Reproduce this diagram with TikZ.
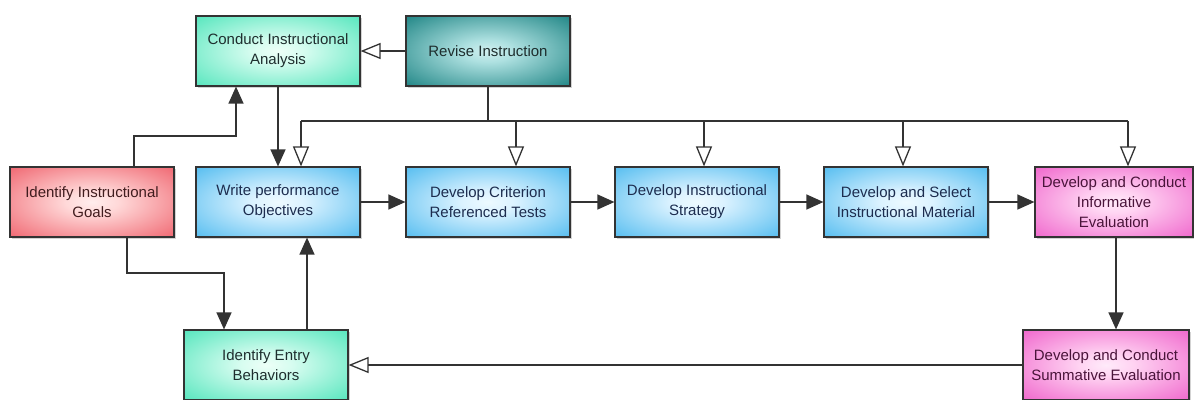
\documentclass[tikz,border=0pt]{standalone}
\usepackage{fontspec}
\setmainfont{Liberation Sans}
\usetikzlibrary{arrows.meta,shadows}
\pgfdeclareradialshading{blueshade}{\pgfpoint{0bp}{0bp}}{rgb(0bp)=(0.93,0.98,1); rgb(8bp)=(0.86,0.95,1); rgb(36bp)=(0.33,0.74,0.94); rgb(72bp)=(0.30,0.72,0.93)}
\pgfdeclareradialshading{tealshade}{\pgfpoint{0bp}{0bp}}{rgb(0bp)=(0.93,1,0.97); rgb(8bp)=(0.84,0.99,0.94); rgb(36bp)=(0.33,0.90,0.74); rgb(72bp)=(0.30,0.88,0.72)}
\pgfdeclareradialshading{dtealshade}{\pgfpoint{0bp}{0bp}}{rgb(0bp)=(0.82,0.94,0.94); rgb(8bp)=(0.68,0.88,0.88); rgb(36bp)=(0.12,0.52,0.52); rgb(72bp)=(0.08,0.44,0.44)}
\pgfdeclareradialshading{redshade}{\pgfpoint{0bp}{0bp}}{rgb(0bp)=(1,0.93,0.93); rgb(8bp)=(1,0.85,0.85); rgb(36bp)=(0.94,0.40,0.44); rgb(72bp)=(0.93,0.36,0.40)}
\pgfdeclareradialshading{magshade}{\pgfpoint{0bp}{0bp}}{rgb(0bp)=(1,0.92,0.98); rgb(8bp)=(1,0.83,0.95); rgb(36bp)=(0.94,0.40,0.80); rgb(72bp)=(0.93,0.36,0.78)}
\definecolor{bluetxt}{RGB}{28,44,78}
\definecolor{tealtxt}{RGB}{30,46,46}
\definecolor{redtxt}{RGB}{64,28,30}
\definecolor{magtxt}{RGB}{74,20,58}
\tikzset{
  box/.style={draw=black!80, line width=1.2pt, inner sep=0pt, align=center,
    minimum width=164pt, minimum height=70pt,
    font=\fontsize{15}{20}\selectfont,
    drop shadow={opacity=0.35, shadow xshift=2pt, shadow yshift=-2pt}},
  bluebox/.style={box, shading=blueshade, text=bluetxt},
  tealbox/.style={box, shading=tealshade, text=tealtxt},
  dtealbox/.style={box, shading=dtealshade, text=tealtxt},
  redbox/.style={box, shading=redshade, text=redtxt},
  magbox/.style={box, shading=magshade, text=magtxt},
  fa/.style={draw=black!80, line width=1.3pt, -{Triangle[length=17pt,width=15pt]}},
  oa/.style={draw=black!80, line width=1.3pt, -{Triangle[open,length=20pt,width=16pt,fill=white]}},
  ln/.style={draw=black!80, line width=1.3pt}
}
\begin{document}
\begin{tikzpicture}[x=1pt,y=-1pt]
\useasboundingbox (0,0) rectangle (1194,399);
\node[tealbox] (conduct) at (278,51) {Conduct Instructional\\Analysis};
\node[dtealbox] (revise) at (488,51) {Revise Instruction};
\node[redbox] (goals) at (92,202) {Identify Instructional\\Goals};
\node[bluebox] (write) at (278,202) {Write performance\\Objectives};
\node[bluebox] (crit) at (488,202) {Develop Criterion\\Referenced Tests};
\node[bluebox] (strat) at (697,202) {Develop Instructional\\Strategy};
\node[bluebox] (mat) at (906,202) {Develop and Select\\Instructional Material};
\node[magbox, minimum width=158pt] (inform) at (1114,202) {Develop and Conduct\\Informative\\Evaluation};
\node[tealbox] (entry) at (266,365) {Identify Entry\\Behaviors};
\node[magbox, minimum width=166pt] (summ) at (1106,365) {Develop and Conduct\\Summative Evaluation};

% revise to conduct
\draw[oa] (revise.west) -- (conduct.east);
% conduct to write
\draw[fa] (conduct.south) -- (write.north);
% revise feedback bus
\coordinate (hub) at (488,121);
\coordinate (bw) at (301,121);
\coordinate (bc) at (516,121);
\coordinate (bs) at (704,121);
\coordinate (bm) at (903,121);
\coordinate (bi) at (1128,121);
\draw[ln] (revise.south) -- (hub);
\draw[ln] (bw) -- (bi);
\draw[oa] (bw) -- (bw |- write.north);
\draw[oa] (bc) -- (bc |- crit.north);
\draw[oa] (bs) -- (bs |- strat.north);
\draw[oa] (bm) -- (bm |- mat.north);
\draw[oa] (bi) -- (bi |- inform.north);
% goals to conduct
\coordinate (g1) at (134,136);
\coordinate (g2) at (236,136);
\draw[fa] (g1 |- goals.north) -- (g1) -- (g2) -- (g2 |- conduct.south);
% goals to entry
\coordinate (g3) at (127,273);
\coordinate (g4) at (224,273);
\draw[fa] (g3 |- goals.south) -- (g3) -- (g4) -- (g4 |- entry.north);
% entry to write
\coordinate (e1) at (307,300);
\draw[fa] (e1 |- entry.north) -- (e1 |- write.south);
% main chain
\draw[fa] (write.east) -- (crit.west);
\draw[fa] (crit.east) -- (strat.west);
\draw[fa] (strat.east) -- (mat.west);
\draw[fa] (mat.east) -- (inform.west);
% inform to summ
\coordinate (i1) at (1116,300);
\draw[fa] (i1 |- inform.south) -- (i1 |- summ.north);
% summ to entry
\draw[oa] (summ.west) -- (entry.east);
\end{tikzpicture}
\end{document}
